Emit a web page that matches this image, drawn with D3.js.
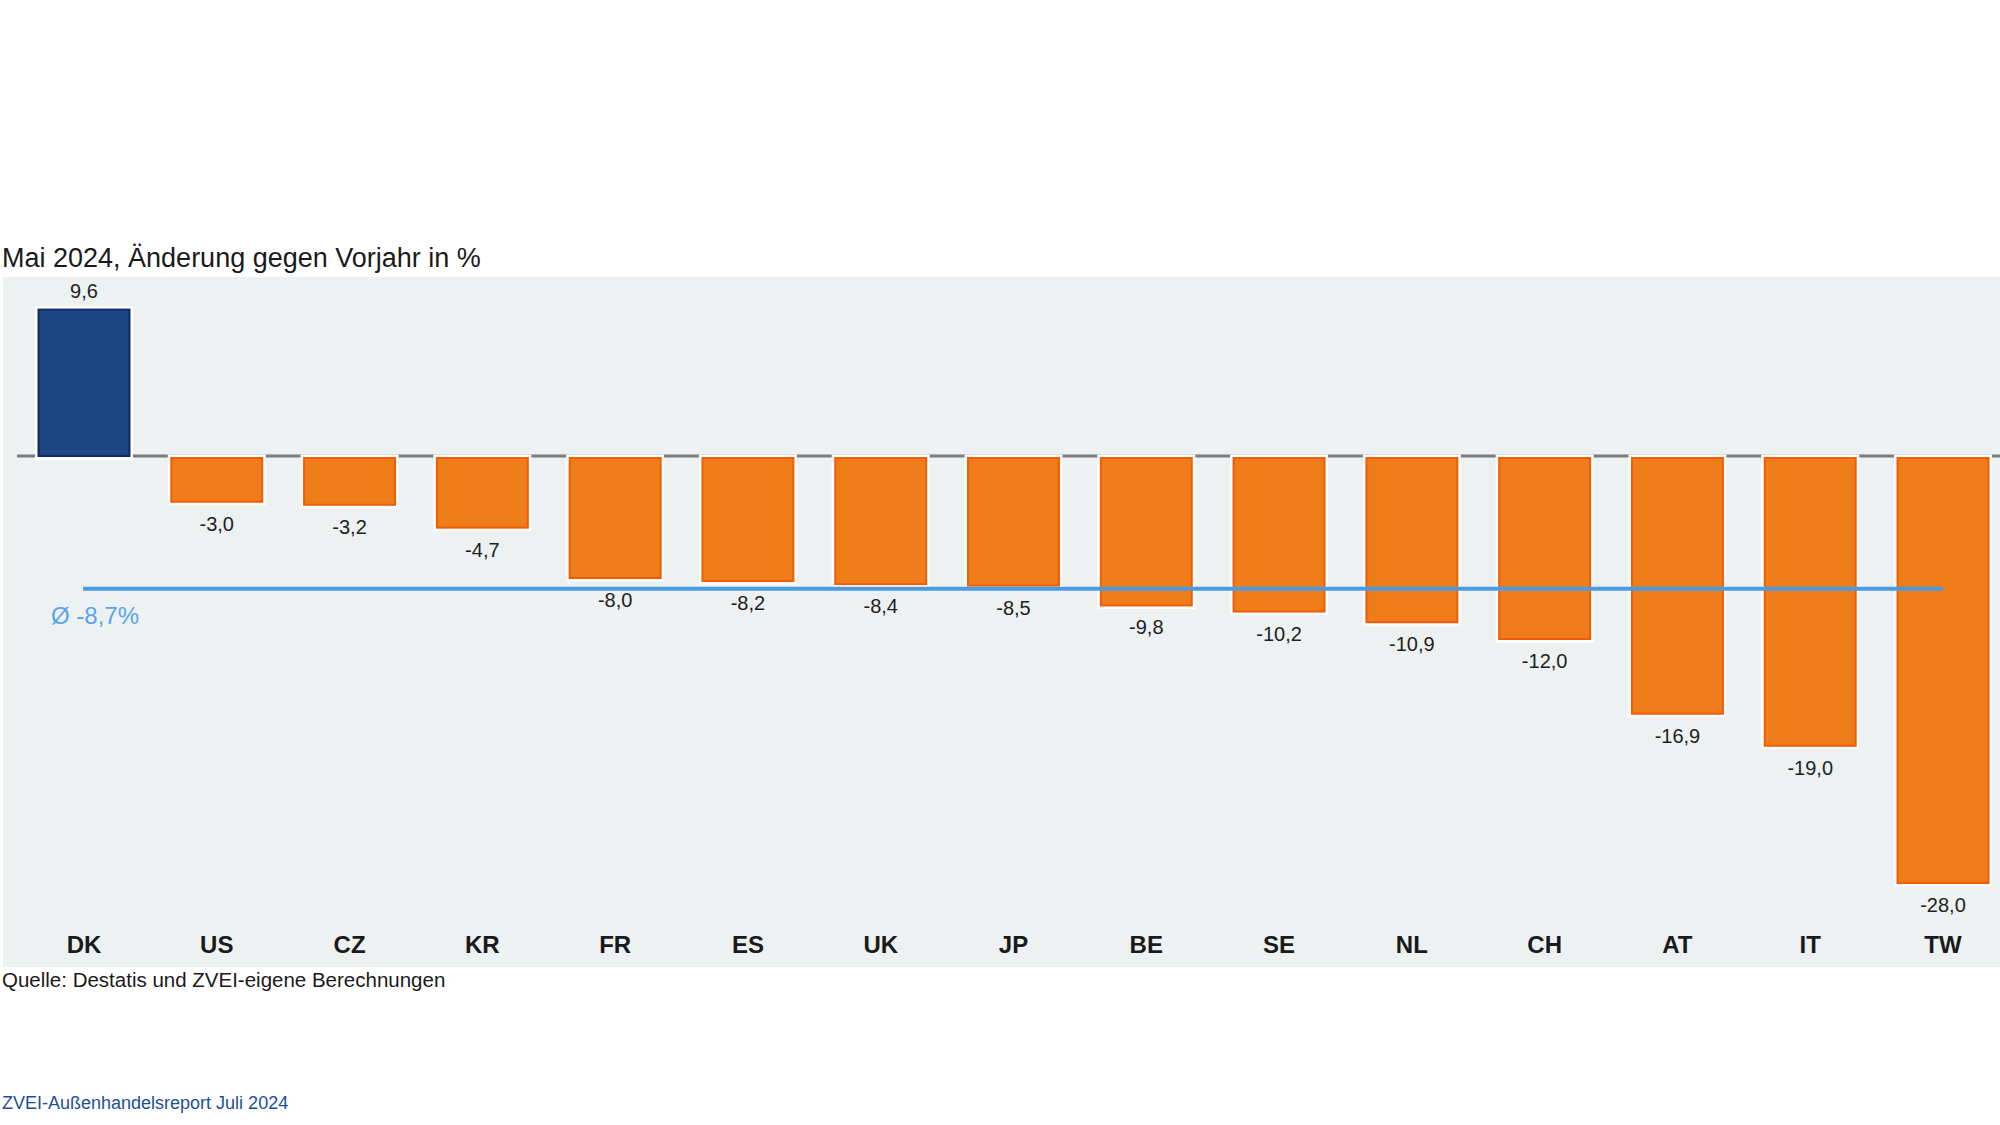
<!DOCTYPE html>
<html>
<head>
<meta charset="utf-8">
<script src="https://cdn.jsdelivr.net/npm/d3@7"></script>
<style>
  body { margin: 0; background: #fff; }
  text { font-family: "Liberation Sans", Arial, sans-serif; }
</style>
</head>
<body>
<script>
// Export change May 2024 vs previous year, in %
var countries = ["DK","US","CZ","KR","FR","ES","UK","JP","BE","SE","NL","CH","AT","IT","TW"];
var changes = [9.6, -3.0, -3.2, -4.7, -8.0, -8.2, -8.4, -8.5, -9.8, -10.2, -10.9, -12.0, -16.9, -19.0, -28.0];
var average = -8.7;

var width = 2000,
    height = 1125;

var de = d3.formatLocale({decimal: ",", thousands: ".", grouping: [3], currency: ["", " €"], minus: "-"});
var fmt = de.format(".1f");

var svg = d3.select("body").append("svg").attr("width", width).attr("height", height);

// grey panel
svg.append("rect")
  .attr("x", 3).attr("y", 277)
  .attr("width", width - 3).attr("height", 690)
  .attr("fill", "#edf1f2");

var x = d3.scaleBand()
  .domain(countries)
  .range([17.6, 2009.4])
  .paddingInner(0.315)
  .paddingOuter(0.1575);

var y = d3.scaleLinear()
  .domain([-28, 9.6])
  .range([883, 309.6]);

var data = countries.map(function(c, i){ return {c: c, v: changes[i]}; });

// zero line
svg.append("line")
  .attr("x1", 17).attr("x2", width)
  .attr("y1", y(0)).attr("y2", y(0))
  .attr("stroke", "#7a7c7e").attr("stroke-width", 3);

var bars = svg.append("g");

// white halo behind bars
bars.selectAll("rect.halo")
  .data(data)
  .enter().append("rect")
  .attr("class", "halo")
  .attr("x", function(d){ return x(d.c); })
  .attr("width", x.bandwidth())
  .attr("y", function(d){ return d.v > 0 ? y(d.v) : y(0) + 2; })
  .attr("height", function(d){ return Math.abs(y(d.v) - y(0)) - (d.v > 0 ? 0 : 2); })
  .attr("fill", "none")
  .attr("stroke", "#ffffff")
  .attr("stroke-width", 7);

bars.selectAll("rect.bar")
  .data(data)
  .enter().append("rect")
  .attr("class", "bar")
  .attr("x", function(d){ return x(d.c); })
  .attr("width", x.bandwidth())
  .attr("y", function(d){ return d.v > 0 ? y(d.v) : y(0) + 2; })
  .attr("height", function(d){ return Math.abs(y(d.v) - y(0)) - (d.v > 0 ? 0 : 2); })
  .attr("fill", function(d){ return d.v > 0 ? "#1b4682" : "#ee7d1a"; })
  .attr("stroke", function(d){ return d.v > 0 ? "#0d2a6a" : "#f25c05"; })
  .attr("stroke-width", 2);

// average line
svg.append("line")
  .attr("x1", x.range()[0] + 65.5).attr("x2", x(countries[countries.length - 1]) + x.bandwidth() / 2)
  .attr("y1", y(average)).attr("y2", y(average))
  .attr("stroke", "#4a9be2").attr("stroke-width", 4);

svg.append("text")
  .attr("x", 51).attr("y", y(average) + 35)
  .attr("font-size", 24)
  .attr("fill", "#5aa6ec")
  .text("Ø " + fmt(average) + "%");

// value labels
svg.append("g").selectAll("text")
  .data(data)
  .enter().append("text")
  .attr("x", function(d){ return x(d.c) + x.bandwidth() / 2; })
  .attr("y", function(d){ return d.v > 0 ? y(d.v) - 12 : y(d.v) + 29; })
  .attr("text-anchor", "middle")
  .attr("font-size", 20)
  .attr("fill", "#1e1e1e")
  .text(function(d){ return fmt(d.v); });

// category labels
svg.append("g").selectAll("text")
  .data(countries)
  .enter().append("text")
  .attr("x", function(d){ return x(d) + x.bandwidth() / 2; })
  .attr("y", 953)
  .attr("text-anchor", "middle")
  .attr("font-size", 24)
  .attr("font-weight", "bold")
  .attr("fill", "#1a1a1a")
  .text(function(d){ return d; });

svg.append("text")
  .attr("x", 2).attr("y", 267)
  .attr("font-size", 27)
  .attr("fill", "#1a1a1a")
  .text("Mai 2024, Änderung gegen Vorjahr in %");

svg.append("text")
  .attr("x", 2).attr("y", 987)
  .attr("font-size", 20.5)
  .attr("fill", "#1a1a1a")
  .text("Quelle: Destatis und ZVEI-eigene Berechnungen");

svg.append("text")
  .attr("x", 2).attr("y", 1109)
  .attr("font-size", 18)
  .attr("fill", "#1d4f96")
  .text("ZVEI-Außenhandelsreport Juli 2024");
</script>
</body>
</html>
